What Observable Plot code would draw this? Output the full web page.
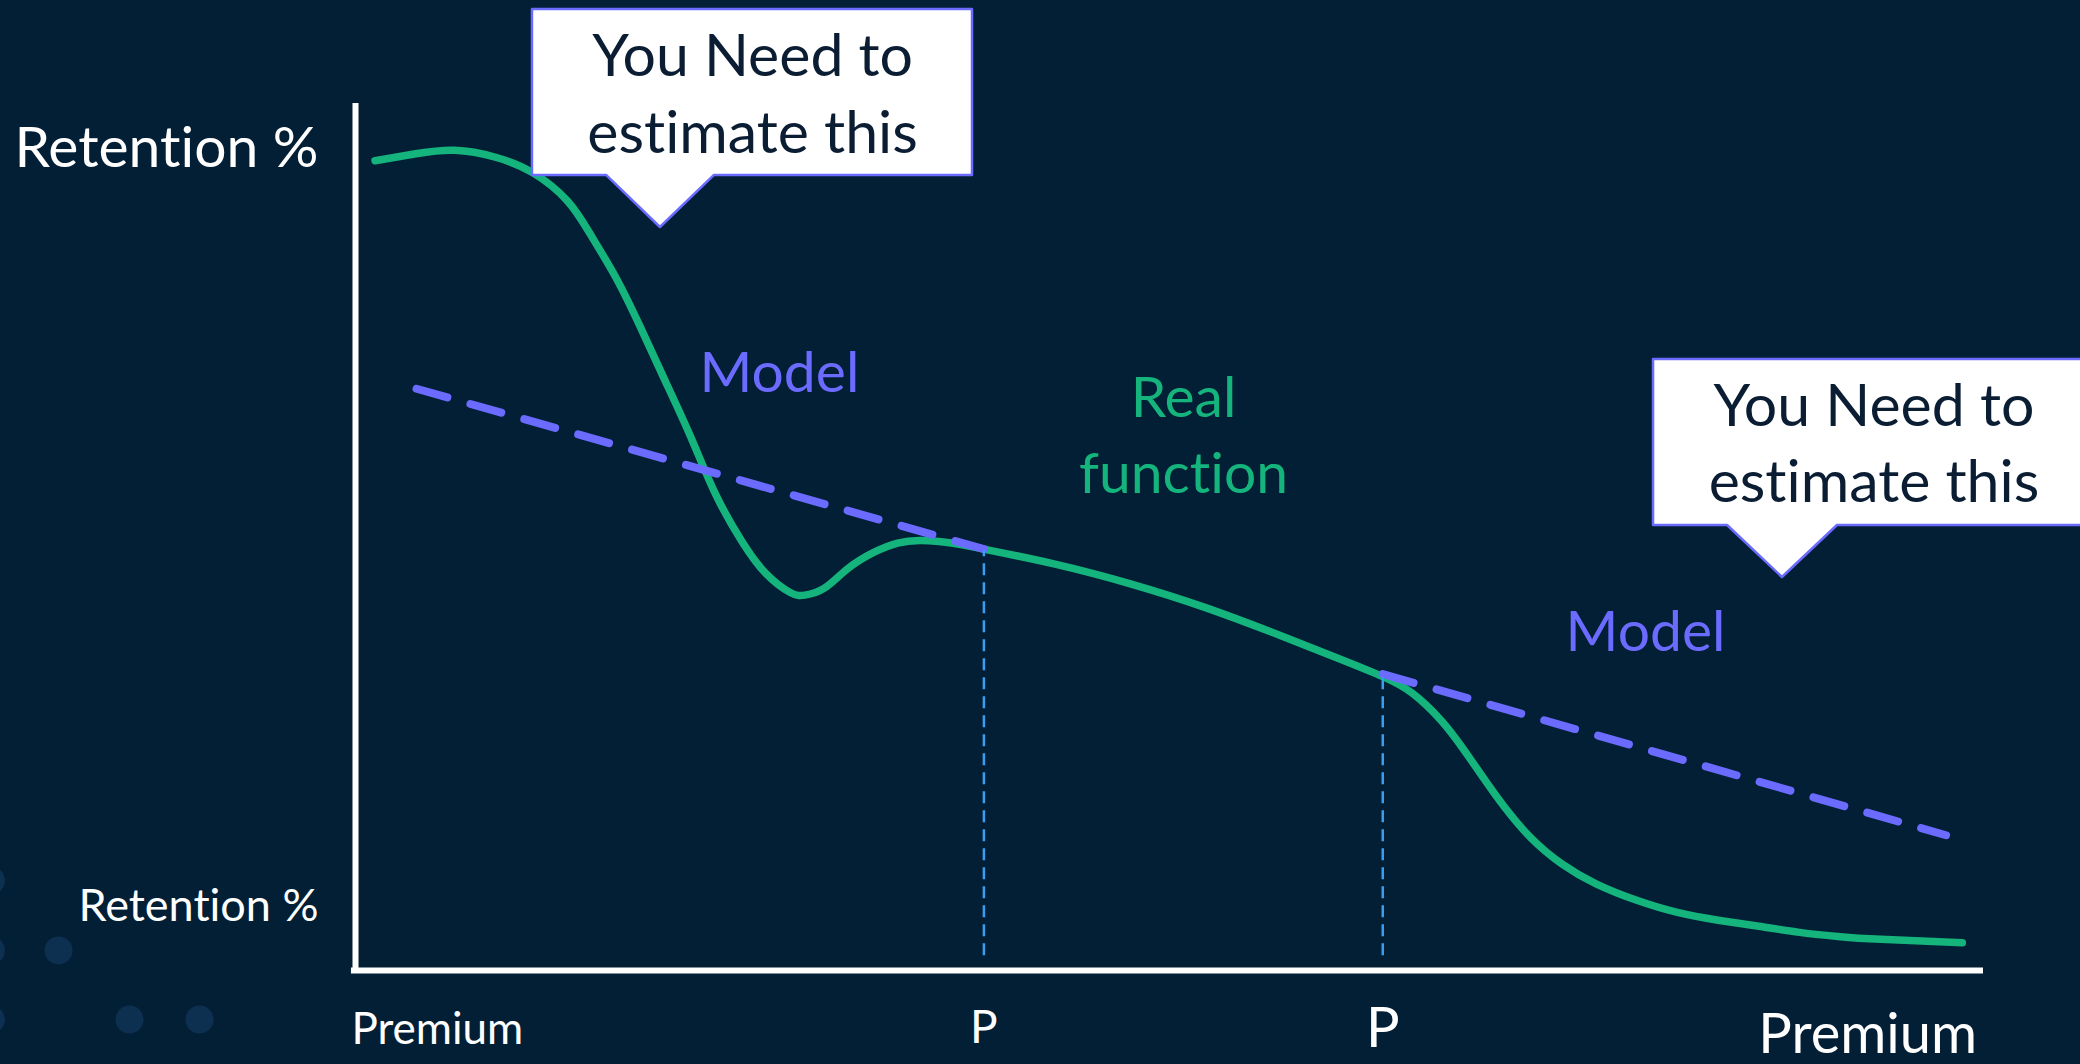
<!DOCTYPE html>
<html>
<head>
<meta charset="utf-8">
<script src="https://cdn.jsdelivr.net/npm/d3@7"></script>
<script src="https://cdn.jsdelivr.net/npm/@observablehq/plot@0.6"></script>
<style>
  html, body { margin: 0; padding: 0; background: #021F35; overflow: hidden; }
  #chart svg { display: block; font-variant-ligatures: none; }
  #chart svg text { font-variant-ligatures: none; font-feature-settings: "liga" 0, "clig" 0; }
</style>
</head>
<body>
<div id="chart"></div>
<script>
// Real retention curve as a function of premium (both in relative units 0–100)
const premium = [1.2, 3.7, 6.1, 8.6, 10.9, 13.0, 14.4, 16.0, 17.5, 19.0, 20.6, 22.1, 23.7, 25.2, 26.7,
  27.6, 28.8, 30.2, 31.8, 33.3, 34.8, 36.6, 38.6, 42.9, 47.6, 52.3, 57.0, 60.5, 63.1, 64.9,
  66.7, 68.1, 69.4, 70.6, 72.2, 74.1, 76.2, 78.7, 81.2, 83.7, 86.2, 88.7, 91.2, 93.7, 98.7];
const retention = [93.4, 94.2, 94.6, 93.8, 92.0, 88.8, 85.0, 79.9, 74.2, 68.1, 61.5, 55.0, 49.6, 45.8, 43.6,
  43.3, 44.1, 46.3, 48.2, 49.3, 49.6, 49.3, 48.6, 46.9, 44.6, 41.8, 38.5, 35.9, 33.9, 32.0,
  28.8, 25.4, 21.9, 18.8, 15.3, 12.3, 10.0, 8.1, 6.7, 5.8, 5.1, 4.4, 3.9, 3.6, 3.2];

// Linear model extrapolated from each observed price point
const modelPremiumLow = [3.75, 38.6];
const modelRetentionLow = [67.1, 48.6];
const modelPremiumHigh = [63.1, 97.7];
const modelRetentionHigh = [34.2, 15.6];

// Observed price points P and the retention measured there
const pricePoints = [38.6, 63.1];
const priceRetention = [48.4, 34.6];
const priceLabelSize = [46, 56];

// Callouts pointing at the regions that must be estimated
const calloutText = [["You Need to", "estimate this"], ["You Need to", "estimate this"]];
const calloutBox = [
  {x1: 10.87, x2: 37.9, y1: 91.7, y2: 110.84, tailX1: 15.42, tailX2: 22.05, tipX: 18.73, tipY: 85.7, textX: 24.39, textY: [105.4, 96.5]},
  {x1: 79.73, x2: 107.5, y1: 51.33, y2: 70.47, tailX1: 84.28, tailX2: 91.03, tipX: 87.65, tipY: 45.33, textX: 93.27, textY: [65.0, 56.2]}
];

// Decorative dot pattern in the lower-left corner
const decoPremium = [-22.4, -22.4, -22.4, -18.24, -13.88, -9.58];
const decoRetention = [10.38, 2.31, -5.65, 2.31, -5.65, -5.65];

const BG = "#021F35";
const GREEN = "#14B47C";
const PURPLE = "#6B6BFF";
const BLUE = "#3A9EF0";
const FONT = "Lato, 'Open Sans', sans-serif";

const curve = premium.map((p, i) => ({premium: p, retention: retention[i]}));
const modelLow = modelPremiumLow.map((p, i) => ({premium: p, retention: modelRetentionLow[i]}));
const modelHigh = modelPremiumHigh.map((p, i) => ({premium: p, retention: modelRetentionHigh[i]}));
const guides = pricePoints.map((p, i) => ({premium: p, top: priceRetention[i], size: priceLabelSize[i]}));
const deco = decoPremium.map((p, i) => ({premium: p, retention: decoRetention[i]}));

const calloutMarks = calloutBox.flatMap((c, k) => {
  const outline = [
    {x: c.x1, y1: c.y1, y2: c.y2},
    {x: c.tailX1, y1: c.y1, y2: c.y2},
    {x: c.tipX, y1: c.tipY, y2: c.y2},
    {x: c.tailX2, y1: c.y1, y2: c.y2},
    {x: c.x2, y1: c.y1, y2: c.y2}
  ];
  const lines = calloutText[k].map((t, j) => ({text: t, x: c.textX, y: c.textY[j]}));
  return [
    Plot.areaY(outline, {x: "x", y1: "y1", y2: "y2", fill: "white", stroke: PURPLE, strokeWidth: 2.5, curve: "linear"}),
    Plot.text(lines, {x: "x", y: "y", text: "text", fill: "#0B1D33", fontSize: 59, fontFamily: FONT})
  ];
});

const chart = Plot.plot({
  width: 2080,
  height: 1064,
  marginLeft: 355,
  marginRight: 97,
  marginTop: 103,
  marginBottom: 94,
  x: {domain: [0, 100], axis: null},
  y: {domain: [0, 100], axis: null},
  style: {background: BG, overflow: "visible", fontFamily: FONT},
  marks: [
    Plot.dot(deco, {x: "premium", y: "retention", r: 14, fill: "#0E3050"}),
    // axes
    Plot.ruleX([0], {y1: -0.25, y2: 100, stroke: "white", strokeWidth: 6}),
    Plot.ruleY([0], {x1: -0.25, x2: 100, stroke: "white", strokeWidth: 6}),
    // real function
    Plot.line(curve, {x: "premium", y: "retention", stroke: GREEN, strokeWidth: 7.5, curve: "natural"}),
    // model extrapolations
    Plot.line(modelLow, {x: "premium", y: "retention", stroke: PURPLE, strokeWidth: 8, strokeDasharray: "32 24"}),
    Plot.line(modelHigh, {x: "premium", y: "retention", stroke: PURPLE, strokeWidth: 8, strokeDasharray: "32 24"}),
    // price point guides
    Plot.ruleX(guides, {x: "premium", y1: 1.7, y2: "top", stroke: BLUE, strokeWidth: 2.5, strokeDasharray: "12 7"}),
    Plot.text(guides, {x: "premium", y: -6.7, text: () => "P", fill: "white", fontSize: "size", fontFamily: FONT}),
    // axis titles
    Plot.text(["Retention %"], {x: -2.27, y: 94.8, text: d => d, textAnchor: "end", fill: "white", fontSize: 57, fontFamily: FONT}),
    Plot.text(["Retention %"], {x: -2.27, y: 7.4, text: d => d, textAnchor: "end", fill: "white", fontSize: 45, fontFamily: FONT}),
    Plot.text(["Premium"], {x: -0.25, y: -6.9, text: d => d, textAnchor: "start", fill: "white", fontSize: 44, fontFamily: FONT}),
    Plot.text(["Premium"], {x: 99.6, y: -7.5, text: d => d, textAnchor: "end", fill: "white", fontSize: 56, fontFamily: FONT}),
    // series labels
    Plot.text(["Model"], {x: 26.04, y: 68.8, text: d => d, fill: PURPLE, fontSize: 57, fontFamily: FONT}),
    Plot.text(["Model"], {x: 79.24, y: 39.0, text: d => d, fill: PURPLE, fontSize: 57, fontFamily: FONT}),
    Plot.text(["Real", "function"], {x: 50.86, y: (d, i) => [65.9, 57.15][i], text: d => d, fill: GREEN, fontSize: 57, fontFamily: FONT}),
    ...calloutMarks
  ]
});

document.getElementById("chart").appendChild(chart);
</script>
</body>
</html>
